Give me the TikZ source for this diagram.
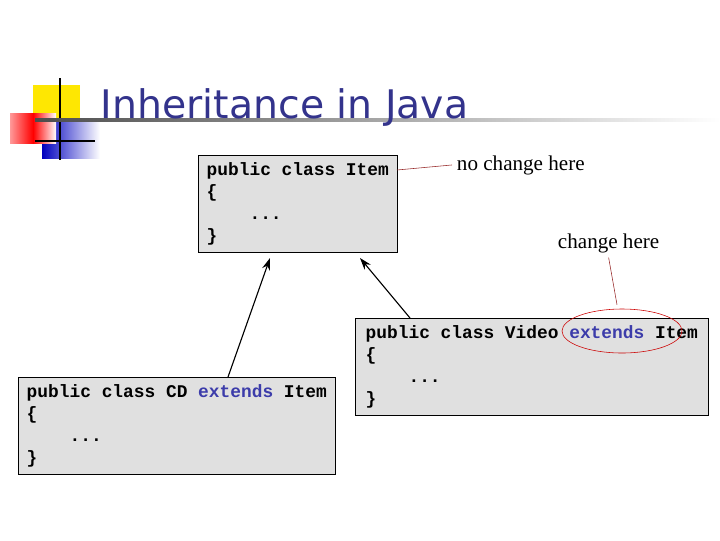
\documentclass[tikz,border=0pt]{standalone}
\usepackage{fontspec}
\setmainfont{Liberation Serif}
\setsansfont{DejaVu Sans}
\setmonofont{Liberation Mono}
\usetikzlibrary{arrows.meta, shapes.geometric}
\definecolor{titleblue}{RGB}{51,51,140}
\definecolor{kwblue}{RGB}{60,60,170}
\definecolor{boxgray}{RGB}{224,224,224}
\definecolor{notered}{RGB}{150,40,40}
\begin{document}
\begin{tikzpicture}[x=0.025cm, y=-0.025cm,
         > = {Stealth[length=3mm, width=2mm]},
  codebox/.style = {draw, fill=boxgray, anchor=north west, align=left,
                    inner sep=5pt, font=\ttfamily\bfseries\fontsize{12.7}{15.6}\selectfont},
  inherit/.style = {thick, ->},
     note/.style = {font=\fontsize{15}{18}\selectfont, anchor=base west},
  noteline/.style = {notered, thin}
                    ]
\useasboundingbox (0,0) rectangle (720,540);
% logo and title
\fill[yellow!90!orange] (33,85) rectangle (80,120);
\shade[left color=blue!75!black, right color=white] (42,118) rectangle (100,158);
\shade[left color=red!40, right color=white, middle color=red] (10,113) rectangle (56,143);
\draw[very thick] (60,78) -- (60,160);
\draw[very thick] (35,141) -- (95,141);
\shade[left color=black!70, right color=white] (35,118) rectangle (720,121);
\node[font=\sffamily\fontsize{28}{32}\selectfont, text=titleblue, anchor=base west] (title) at (96,118) {Inheritance in Java};
% classes
\node[codebox, minimum width=199*0.025cm, minimum height=95*0.025cm] (item) at (198,155)
  {public class Item\\\{\\\ \ \ \ ...\\\}};
\node[codebox, minimum width=317*0.025cm, minimum height=95*0.025cm] (cd) at (18,377)
  {public class CD \textcolor{kwblue}{extends} Item\\\{\\\ \ \ \ ...\\\}};
\node[codebox, minimum width=353*0.025cm, minimum height=95*0.025cm] (video) at (355,318)
  {public class Video \textcolor{kwblue}{extends} Item\\\{\\\ \ \ \ ...\\\}};
% inheritance arrows
\coordinate (cdtop) at (228,377);
\coordinate (itemleft) at (270,258);
\coordinate (videotop) at (410,318);
\coordinate (itemright) at (360,258);
\draw[inherit] (cdtop) -- (itemleft);
\draw[inherit] (videotop) -- (itemright);
% notes
\node[note] (nochange) at (452,170) {no change here};
\node[note] (change) at (553,248) {change here};
\coordinate (itemend) at (397,170);
\draw[noteline] (itemend) -- (nochange.west);
\node[ellipse, draw=red!80!black, minimum width=120*0.025cm, minimum height=44*0.025cm] (ext) at (622,331) {};
\draw[noteline] (ext.north) ++(-5,-4) -- (change.south);
\end{tikzpicture}
\end{document}
